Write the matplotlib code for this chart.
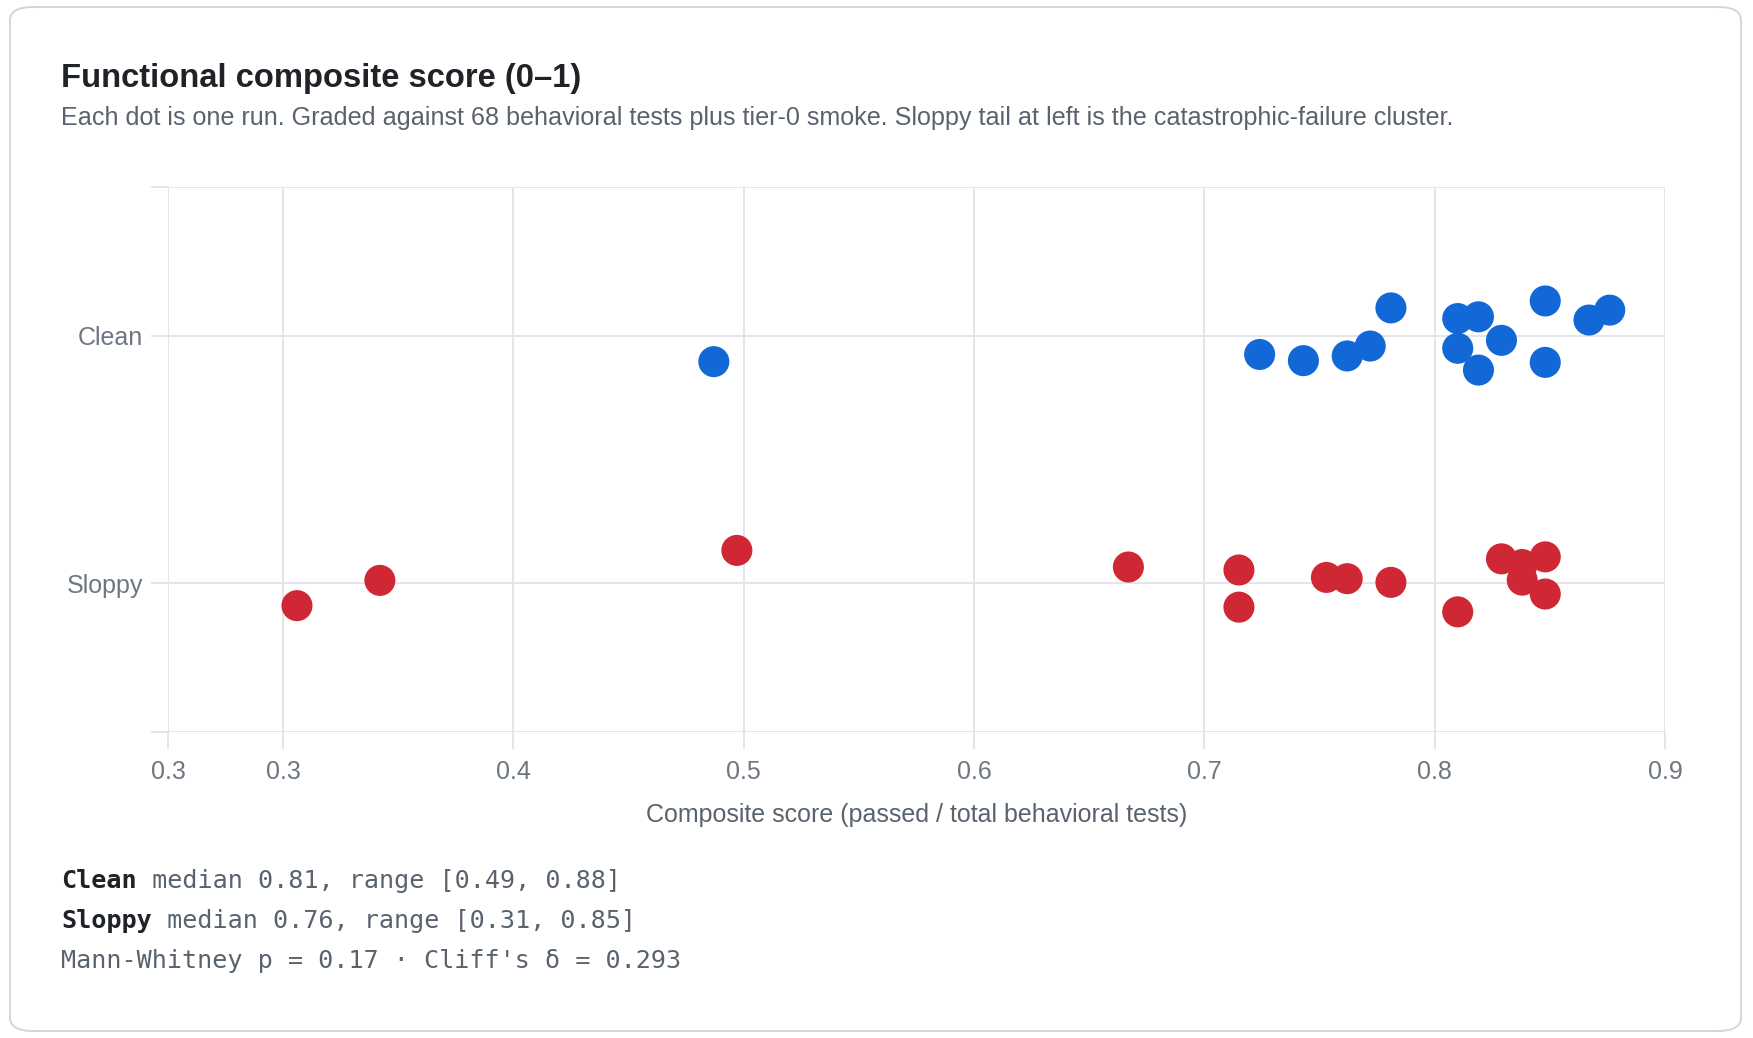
import matplotlib
matplotlib.use("Agg")
import matplotlib.pyplot as plt
from matplotlib.patches import FancyBboxPatch

# ---- data ----
categories = ["Sloppy", "Clean"]
clean_scores = [0.487, 0.724, 0.743, 0.762, 0.772, 0.781, 0.810, 0.819, 0.810,
                0.829, 0.819, 0.848, 0.848, 0.867, 0.876]
clean_jitter = [-0.105, -0.076, -0.101, -0.082, -0.042, 0.112, 0.069, 0.076, -0.051,
                -0.019, -0.139, 0.140, -0.108, 0.063, 0.103]
sloppy_scores = [0.306, 0.342, 0.497, 0.667, 0.715, 0.715, 0.753, 0.762, 0.781,
                 0.810, 0.829, 0.838, 0.838, 0.848, 0.848]
sloppy_jitter = [-0.090, 0.012, 0.133, 0.066, 0.054, -0.096, 0.024, 0.019, 0.004,
                 -0.115, 0.099, 0.076, 0.013, 0.107, -0.043]
x_ticks = [0.25, 0.3, 0.4, 0.5, 0.6, 0.7, 0.8, 0.9]
x_tick_labels = ["0.3", "0.3", "0.4", "0.5", "0.6", "0.7", "0.8", "0.9"]

title = "Functional composite score (0\u20131)"
subtitle = ("Each dot is one run. Graded against 68 behavioral tests plus tier-0 smoke. "
            "Sloppy tail at left is the catastrophic-failure cluster.")
xlabel = "Composite score (passed / total behavioral tests)"
stats = [("Clean", " median 0.81, range [0.49, 0.88]"),
         ("Sloppy", " median 0.76, range [0.31, 0.85]"),
         ("", "Mann-Whitney p = 0.17 \u00b7 Cliff's \u03b4 = 0.293")]

BLUE = "#1368d8"
RED = "#cf2733"
GRID = "#e4e4ea"
SANS = ["Liberation Sans", "DejaVu Sans"]
MONO = ["DejaVu Sans Mono"]

W, H = 1753, 1038
fig = plt.figure(figsize=(W / 100, H / 100), dpi=100)
fig.patch.set_facecolor("white")

# card
card = FancyBboxPatch((10 / W, 7 / H), 1731 / W, 1024 / H,
                      boxstyle="round,pad=0,rounding_size=0.013",
                      transform=fig.transFigure, facecolor="white",
                      edgecolor="#d3d6de", linewidth=1.4, zorder=-10)
fig.patches.append(card)

fig.text(61 / W, 1 - 78 / H, title, fontsize=23.6, fontweight="bold", color="#1f2328",
         family=SANS, va="center", ha="left")
fig.text(61 / W, 1 - 118 / H, subtitle, fontsize=18.05, color="#59636e",
         family=SANS, va="center", ha="left")

ax = fig.add_axes([168 / W, 1 - 732 / H, (1665 - 168) / W, (732 - 187) / H])
ax.set_zorder(5)
ax.set_facecolor("none")
ypos = {c: i for i, c in enumerate(categories)}
ax.scatter(clean_scores, [ypos["Clean"] + j for j in clean_jitter], s=500,
           color=BLUE, edgecolors="none", zorder=3)
ax.scatter(sloppy_scores, [ypos["Sloppy"] + j for j in sloppy_jitter], s=500,
           color=RED, edgecolors="none", zorder=3)

ax.set_xlim(0.25, 0.9)
ax.set_ylim(-0.6, 1.6)
ax.set_xticks(x_ticks)
ax.set_xticklabels(x_tick_labels)
ax.set_yticks([-0.6, 0, 1, 1.6])
ax.set_yticklabels(["", "Sloppy", "Clean", ""])
for s in ax.spines.values():
    s.set_visible(False)
ax.grid(True, color=GRID, linewidth=1.4, zorder=0)
ax.set_axisbelow(True)
ax.tick_params(axis="x", length=12, width=1.4, color=GRID, labelsize=18,
               labelcolor="#6e7781", pad=8)
ax.tick_params(axis="y", length=12, width=1.4, color=GRID, labelsize=18,
               labelcolor="#6e7781", pad=6)
for lab in ax.get_xticklabels() + ax.get_yticklabels():
    lab.set_family(SANS)
ax.set_xlabel(xlabel, fontsize=18, color="#59636e", family=SANS, labelpad=14)

# stats block
ys = [881, 921, 961]
for (bold, rest), y in zip(stats, ys):
    t = fig.text(61 / W, 1 - y / H, bold, fontsize=18.1, fontweight="bold",
                 color="#1f2328", family=MONO, va="center", ha="left")
    fig.canvas.draw()
    bb = t.get_window_extent()
    x0 = bb.x1 if bold else 61
    fig.text(x0 / W, 1 - y / H, rest, fontsize=18.1, color="#59636e",
             family=MONO, va="center", ha="left")

fig.savefig("out.png", dpi=100)
